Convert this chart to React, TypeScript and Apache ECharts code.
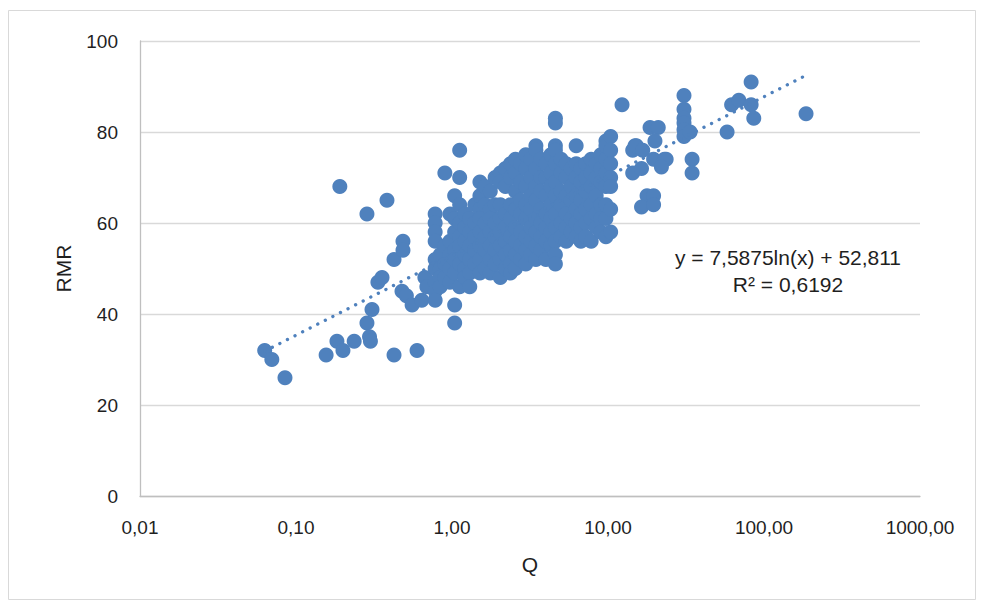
import React, { useEffect, useRef } from "react";
import * as echarts from "echarts";

// ---- Data (Q, RMR) ----
const LOW_POINTS: [number, number][] = [
  [0.063, 32], [0.07, 30], [0.085, 26], [0.156, 31], [0.183, 34], [0.191, 68], [0.2, 32],
  [0.236, 34], [0.285, 62], [0.285, 38], [0.296, 35], [0.3, 34], [0.307, 41], [0.335, 47],
  [0.356, 48], [0.383, 65], [0.425, 31], [0.425, 52], [0.478, 45], [0.485, 56], [0.485, 54],
  [0.51, 44], [0.555, 42], [0.597, 32], [0.64, 43], [0.67, 48], [0.69, 46],
];

// core cloud: [Q, list of RMR values at that Q]
const CORE_COLUMNS: [number, number[]][] = [
  [0.78, [62, 60, 58, 56, 52, 50, 47, 45, 43]],
  [0.84, [53, 50, 48, 46]],
  [0.9, [71, 55, 51, 48]],
  [0.97, [62, 56, 53, 50, 47]],
  [1.04, [66, 61, 58, 54, 52, 49, 42, 38]],
  [1.12, [76, 70, 64, 60, 57, 55, 51, 46]],
  [1.21, [62, 59, 56, 53, 50, 48]],
  [1.3, [61, 58, 55, 52, 49, 46]],
  [1.4, [64, 60, 57, 54, 51]],
  [1.51, [69, 66, 63, 61, 58, 55, 52, 49]],
  [1.63, [68, 64, 60, 57, 54, 50]],
  [1.76, [67, 63, 61, 58, 55, 52, 49]],
  [1.89, [70, 64, 60, 57, 54, 51]],
  [2.04, [71, 69, 64, 61, 58, 55, 52, 48]],
  [2.2, [72, 68, 62, 59, 56, 53, 50]],
  [2.37, [73, 70, 64, 61, 57, 54, 51, 49]],
  [2.55, [74, 71, 67, 63, 59, 56, 53, 50]],
  [2.75, [73, 69, 65, 62, 58, 55, 52]],
  [2.97, [75, 72, 68, 64, 61, 57, 54, 51]],
  [3.2, [74, 70, 66, 63, 59, 56, 53]],
  [3.45, [77, 76, 72, 68, 65, 61, 58, 55, 52]],
  [3.72, [74, 70, 67, 63, 60, 57, 54]],
  [4.0, [73, 70, 66, 62, 59, 56, 52]],
  [4.3, [75, 71, 68, 64, 61, 58, 55]],
  [4.6, [83, 82, 77, 76, 73, 69, 66, 62, 59, 56, 53, 51]],
  [5.0, [74, 71, 67, 64, 60, 57]],
  [5.4, [73, 70, 66, 62, 59, 56]],
  [5.8, [72, 68, 65, 61, 58]],
  [6.25, [77, 73, 70, 66, 63, 60, 57]],
  [6.7, [72, 69, 65, 62, 59, 56]],
  [7.2, [73, 70, 67, 63, 60, 57]],
  [7.8, [74, 71, 68, 64, 61, 56]],
  [8.4, [73, 70, 66, 62, 59]],
  [9.0, [75, 72, 69, 64, 61, 58]],
  [9.7, [78, 77, 74, 71, 68, 64, 61, 57]],
  [10.4, [79, 76, 73, 70, 68, 63, 58]],
];

const HIGH_POINTS: [number, number][] = [
  [12.3, 86], [14.4, 76], [14.9, 77], [15.2, 77], [16.7, 76], [14.4, 71], [16.4, 72],
  [17.8, 66], [16.4, 63.5], [19.6, 66], [19.6, 64], [18.6, 81], [21, 81], [20, 78],
  [19.6, 74], [23, 74], [23.6, 74], [22, 72.3], [30.7, 88], [30.7, 85], [30.7, 83],
  [30.7, 82], [30.7, 80.5], [30.7, 79], [33.6, 80], [34.6, 74], [34.6, 71], [58, 80],
  [62, 86], [69, 87], [82.7, 91], [82.7, 86], [86, 83], [186, 84],
];

// Logarithmic trendline shown in the chart: y = 7,5875 ln(x) + 52,811
const TREND_A = 7.5875;
const TREND_B = 52.811;
const TREND_LABEL = "y = 7,5875ln(x) + 52,811";
const R2_LABEL = "R² = 0,6192";

const X_TICKS = [0.01, 0.1, 1, 10, 100, 1000];
const X_TICK_LABELS = ["0,01", "0,10", "1,00", "10,00", "100,00", "1000,00"];
const Y_TICKS = [0, 20, 40, 60, 80, 100];

const X_NAME = "Q";
const Y_NAME = "RMR";

const BLUE = "#4F81BD";
const FONT = "'Liberation Sans', Arial, sans-serif";
const TEXT = "#1f1f1f";

export default function App() {
  const ref = useRef<HTMLDivElement>(null);

  useEffect(() => {
    if (!ref.current) return;
    const chart = echarts.init(ref.current, null, { renderer: "svg" });

    const points: [number, number][] = [
      ...LOW_POINTS,
      ...CORE_COLUMNS.flatMap(([q, list]) => list.map((r) => [q, r] as [number, number])),
      ...HIGH_POINTS,
    ];
    const qs = points.map((p) => p[0]);
    const qMin = Math.min(...qs);
    const qMax = Math.max(...qs);
    const trend = [qMin, qMax].map((q) => [q, TREND_A * Math.log(q) + TREND_B]);

    chart.setOption({
      animation: false,
      backgroundColor: "#ffffff",
      textStyle: { fontFamily: FONT },
      grid: { left: 140, right: 64, top: 41, bottom: 112 },
      xAxis: {
        type: "log",
        logBase: 10,
        min: X_TICKS[0],
        max: X_TICKS[X_TICKS.length - 1],
        name: X_NAME,
        nameLocation: "middle",
        nameGap: 58,
        nameTextStyle: { fontSize: 21, color: TEXT, fontFamily: FONT, verticalAlign: "top" },
        axisLine: { show: true, lineStyle: { color: "#BFBFBF", width: 1.3 } },
        axisTick: { show: false },
        splitLine: { show: false },
        axisLabel: {
          fontSize: 19,
          color: TEXT,
          margin: 22,
          fontFamily: FONT,
          formatter: (v: number) => {
            const i = X_TICKS.findIndex((t) => Math.abs(Math.log10(t) - Math.log10(v)) < 0.01);
            return i >= 0 ? X_TICK_LABELS[i] : "";
          },
        },
      },
      yAxis: {
        type: "value",
        min: Y_TICKS[0],
        max: Y_TICKS[Y_TICKS.length - 1],
        interval: Y_TICKS[1] - Y_TICKS[0],
        name: Y_NAME,
        nameLocation: "middle",
        nameGap: 66,
        nameRotate: 90,
        nameTextStyle: { fontSize: 21, color: TEXT, fontFamily: FONT },
        axisLine: { show: true, lineStyle: { color: "#BFBFBF", width: 1.3 } },
        axisTick: { show: false },
        splitLine: { show: true, lineStyle: { color: "#D9D9D9", width: 1.3 } },
        axisLabel: { fontSize: 19, color: TEXT, margin: 22, fontFamily: FONT },
      },
      series: [
        {
          type: "scatter",
          data: points,
          symbol: "circle",
          symbolSize: 15,
          itemStyle: { color: BLUE, opacity: 1 },
          z: 2,
        },
        {
          type: "line",
          data: trend,
          showSymbol: false,
          symbol: "none",
          lineStyle: { color: BLUE, width: 3.3, type: [0.1, 8.4], cap: "round" },
          z: 3,
          silent: true,
        },
      ],
      graphic: [
        {
          type: "rect",
          shape: { x: 8.5, y: 10.5, width: 967, height: 589 },
          style: { fill: "none", stroke: "#D9D9D9", lineWidth: 1 },
          silent: true,
        },
        {
          type: "text",
          x: 788,
          y: 257,
          style: {
            text: TREND_LABEL,
            fontSize: 21,
            fontFamily: FONT,
            fill: TEXT,
            textAlign: "center",
            textVerticalAlign: "middle",
          },
        },
        {
          type: "text",
          x: 788,
          y: 284,
          style: {
            text: R2_LABEL,
            fontSize: 21,
            fontFamily: FONT,
            fill: TEXT,
            textAlign: "center",
            textVerticalAlign: "middle",
          },
        },
      ],
    });

    return () => chart.dispose();
  }, []);

  return (
    <div
      ref={ref}
      style={{ position: "absolute", left: 0, top: 0, width: 984, height: 608 }}
    />
  );
}
